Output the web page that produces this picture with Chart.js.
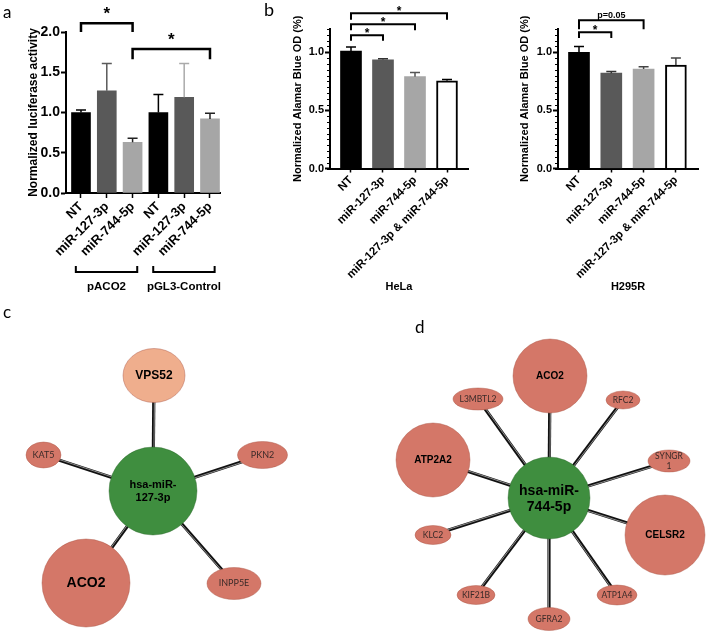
<!DOCTYPE html>
<html><head><meta charset="utf-8">
<script src="https://cdn.jsdelivr.net/npm/chart.js@4.4.1/dist/chart.umd.min.js"></script>
<style>
html,body{margin:0;padding:0;background:#fff;}
body{width:708px;height:635px;position:relative;overflow:hidden;}
canvas{position:absolute;}
.lbl{position:absolute;font-family:Lato,'Open Sans',sans-serif;color:#000;line-height:1;}
</style></head><body>
<canvas id="ca" width="235" height="300" style="left:0;top:0"></canvas>
<canvas id="cb1" width="235" height="300" style="left:240px;top:0"></canvas>
<canvas id="cb2" width="238" height="300" style="left:470px;top:0"></canvas>
<canvas id="cc" width="360" height="335" style="left:0;top:300px"></canvas>
<canvas id="cd" width="328" height="335" style="left:380px;top:300px"></canvas>
<div class="lbl" style="left:3px;top:3px;font-size:17px">a</div>
<div class="lbl" style="left:264px;top:0px;font-size:18px">b</div>
<div class="lbl" style="left:3px;top:303px;font-size:17px">c</div>
<div class="lbl" style="left:415px;top:318px;font-size:17px">d</div>
<script>
// ---------- data ----------
const catsA = ['NT','miR-127-3p','miR-744-5p','NT','miR-127-3p','miR-744-5p'];
const valsA = [1.00, 1.27, 0.63, 1.00, 1.19, 0.92];
const errA  = [1.03, 1.61, 0.68, 1.225, 1.61, 0.99];
const ticksA = [0, 0.5, 1.0, 1.5, 2.0];
const groupNamesA = ['pACO2','pGL3-Control'];
const groupStartA = [0, 3];
const groupEndA = [2, 5];
const brFromA = [0, 2], brToA = [2, 5], brLevelA = [2.11, 1.79], brDropA = [2.0, 1.66], brTextA = ['*','*'];

const catsB = ['NT','miR-127-3p','miR-744-5p','miR-127-3p & miR-744-5p'];
const valsHeLa = [1.01, 0.935, 0.79, 0.755];
const errHeLa  = [1.045, 0.945, 0.825, 0.765];
const valsH295R = [1.00, 0.82, 0.855, 0.89];
const errH295R  = [1.05, 0.835, 0.875, 0.95];
const ticksB = [0, 0.5, 1.0];
const brFromHeLa = [0, 0, 0], brToHeLa = [3, 2, 1], brLevelHeLa = [1.336, 1.241, 1.147], brDropHeLa = [1.28, 1.19, 1.10], brTextHeLa = ['*','*','*'];
const brFromH295R = [0, 0], brToH295R = [2, 1], brLevelH295R = [1.276, 1.172], brDropH295R = [1.198, 1.123], brTextH295R = ['p=0.05','*'];

// network c
const netCNames = ['hsa-miR-\n127-3p','VPS52','PKN2','INPP5E','ACO2','KAT5'];
const netCX = [0, 1, 109.5, 81, -67, -109.5];
const netCY = [0, 115.5, 36, -92.5, -92, 36];
const netCRx = [44, 31, 25, 27, 44, 17.5];
const netCRy = [44, 27, 13.5, 16, 44, 13];
const netCKind = ['hub','light','minor','minor','major','minor'];
// network d
const netDNames = ['hsa-miR-\n744-5p','ACO2','RFC2','SYNGR\n1','CELSR2','ATP1A4','GFRA2','KIF21B','KLC2','ATP2A2','L3MBTL2'];
const netDX = [0, 1, 74, 120, 116, 68, 0, -73, -116, -116, -71];
const netDY = [0, 122, 98, 37, -37, -97, -121, -97, -37, 38, 99];
const netDRx = [41, 37, 17, 21, 40, 20, 21, 19, 18, 37, 25];
const netDRy = [41, 37, 9, 11, 40, 10, 11.5, 9.5, 9.5, 37, 11];
const netDKind = ['hub','major','minor','minor','major','minor','minor','minor','minor','major','minor'];

// ---------- charts ----------
const SANS = "'Liberation Sans', Arial, sans-serif";
Chart.defaults.font.family = SANS;
Chart.defaults.color = '#000';

function barChart(id, o) {
  const ann = {
    id: 'ann_' + id,
    afterDraw(chart) {
      const ctx = chart.ctx, xs = chart.scales.x, ys = chart.scales.y;
      const meta = chart.getDatasetMeta(0);
      ctx.save();
      // error bars
      o.err.forEach((e, i) => {
        const x = meta.data[i].x;
        const y0 = ys.getPixelForValue(o.vals[i]), y1 = ys.getPixelForValue(e);
        ctx.strokeStyle = o.errColors[i]; ctx.lineWidth = o.elw;
        ctx.beginPath();
        ctx.moveTo(x, y0); ctx.lineTo(x, y1);
        ctx.moveTo(x - o.cap / 2, y1); ctx.lineTo(x + o.cap / 2, y1);
        ctx.stroke();
      });
      // minor ticks
      if (o.minor) {
        ctx.strokeStyle = '#000'; ctx.lineWidth = 1;
        const L = chart.chartArea.left;
        for (let k = 0; k <= Math.round(o.ymax / o.minor); k++) {
          const v = k * o.minor;
          const py = Math.round(ys.getPixelForValue(v)) + 0.5;
          ctx.beginPath(); ctx.moveTo(L - 3, py); ctx.lineTo(L, py); ctx.stroke();
        }
      }
      // significance brackets
      ctx.strokeStyle = '#000'; ctx.fillStyle = '#000'; ctx.lineWidth = o.blw;
      o.brFrom.forEach((f, i) => {
        const x1 = xs.getPixelForValue(f), x2 = xs.getPixelForValue(o.brTo[i]);
        const y = ys.getPixelForValue(o.brLevel[i]), yd = ys.getPixelForValue(o.brDrop[i]);
        ctx.beginPath();
        ctx.moveTo(x1, yd); ctx.lineTo(x1, y); ctx.lineTo(x2, y); ctx.lineTo(x2, yd);
        ctx.stroke();
        const t = o.brText[i];
        const star = t === '*';
        ctx.font = 'bold ' + (star ? o.starSize : o.pSize) + 'px ' + SANS;
        ctx.textAlign = 'center'; ctx.textBaseline = 'alphabetic';
        ctx.fillText(t, (x1 + x2) / 2, y + (star ? o.starOff : o.pOff));
      });
      // group brackets below axis
      if (o.groups) {
        ctx.lineWidth = 2;
        o.groups.forEach((g, i) => {
          const x1 = xs.getPixelForValue(o.gStart[i] - 0.2), x2 = xs.getPixelForValue(o.gEnd[i] + 0.18);
          ctx.beginPath();
          ctx.moveTo(x1, 266); ctx.lineTo(x1, 272); ctx.lineTo(x2, 272); ctx.lineTo(x2, 266);
          ctx.stroke();
          ctx.font = 'bold 11.5px ' + SANS; ctx.textAlign = 'center'; ctx.textBaseline = 'middle';
          ctx.fillText(g, (x1 + x2) / 2, 287);
        });
      }
      ctx.restore();
    }
  };
  return new Chart(document.getElementById(id), {
    type: 'bar',
    data: { datasets: [{
      data: o.vals.map((v, i) => ({ x: i, y: v })),
      backgroundColor: o.colors, borderColor: '#000', borderWidth: o.bw,
      barThickness: o.thick, borderSkipped: 'start'
    }] },
    options: {
      responsive: false, animation: false, events: [],
      layout: { padding: { left: 0, top: o.top, right: o.right, bottom: 0 } },
      plugins: { legend: { display: false }, tooltip: { enabled: false } },
      scales: {
        x: {
          type: 'linear', min: o.xmin, max: o.xmax, offset: false,
          afterBuildTicks: s => { s.ticks = o.cats.map((c, i) => ({ value: i })); },
          afterFit: s => { s.height = o.xh; },
          ticks: { callback: v => o.cats[Math.round(v)], minRotation: 45, maxRotation: 45, autoSkip: false,
                   font: { size: o.xfs, weight: 'bold' }, color: '#000', padding: 1 },
          grid: { display: true, drawOnChartArea: false, offset: false, tickLength: o.xtl, tickColor: '#000', tickWidth: 1.5 },
          border: { color: '#000', width: o.aw },
          title: o.xtitle ? { display: true, text: o.xtitle, font: { size: 11, weight: 'bold' }, color: '#000', padding: { top: 0, bottom: 6 } } : { display: false }
        },
        y: {
          min: 0, max: o.ymax,
          afterBuildTicks: s => { s.ticks = o.yticks.map(v => ({ value: v })); },
          afterFit: s => { s.width = o.yw; },
          ticks: { callback: v => Number(v).toFixed(1), font: { size: o.yfs, weight: 'bold' }, color: '#000', padding: 1 },
          grid: { display: true, drawOnChartArea: false, tickLength: 5, tickColor: '#000', tickWidth: o.aw },
          border: { color: '#000', width: o.aw },
          title: { display: true, text: o.ytitle, font: { size: o.ytfs, weight: 'bold' }, color: '#000', padding: { top: o.ytpad, bottom: 0 } }
        }
      }
    },
    plugins: [ann]
  });
}

const GREYS = ['#000000', '#595959', '#a6a6a6'];

barChart('ca', {
  cats: catsA, vals: valsA, err: errA, yticks: ticksA, ymax: 2.0,
  colors: [GREYS[0], GREYS[1], GREYS[2], GREYS[0], GREYS[1], GREYS[2]], bw: 0, thick: 19,
  errColors: ['#000', '#5a5a5a', '#222', '#000', '#aaaaaa', '#222'], elw: 1.5, cap: 10,
  top: 32, right: 15, xh: 107, yw: 66, xmin: -0.581, xmax: 5.388,
  xfs: 13, yfs: 14, xtl: 5, aw: 2, ytitle: 'Normalized luciferase activity', ytfs: 12, ytpad: 26,
  brFrom: brFromA, brTo: brToA, brLevel: brLevelA, brDrop: brDropA, brText: brTextA,
  blw: 2.5, starSize: 17, starOff: -4, pSize: 9, pOff: -2,
  groups: groupNamesA, gStart: groupStartA, gEnd: groupEndA
});

const optsB = {
  cats: catsB, yticks: ticksB, ymax: 1.2, minor: 0.05,
  colors: [GREYS[0], GREYS[1], GREYS[2], '#ffffff'], bw: [0, 0, 0, 2], thick: 21,
  elw: 1.5, cap: 10, top: 29, xh: 131.5, xfs: 11.5, yfs: 11, xtl: 4, aw: 2,
  ytitle: 'Normalized Alamar Blue OD (%)', ytfs: 11,
  blw: 2, starSize: 12, starOff: 2, pSize: 9, pOff: -2
};
barChart('cb1', Object.assign({}, optsB, {
  vals: valsHeLa, err: errHeLa, errColors: ['#000', '#333', '#555', '#000'],
  right: 7, yw: 90, xmin: -0.656, xmax: 3.656, ytpad: 51, xtitle: 'HeLa',
  brFrom: brFromHeLa, brTo: brToHeLa, brLevel: brLevelHeLa, brDrop: brDropHeLa, brText: brTextHeLa
}));
barChart('cb2', Object.assign({}, optsB, {
  vals: valsH295R, err: errH295R, errColors: ['#000', '#333', '#444', '#444'],
  right: 10, yw: 88, xmin: -0.65, xmax: 3.684, ytpad: 48, xtitle: 'H295R',
  brFrom: brFromH295R, brTo: brToH295R, brLevel: brLevelH295R, brDrop: brDropH295R, brText: brTextH295R
}));

// ---------- networks ----------
const COL = { hub: '#3f8e3f', major: '#d47768', minor: '#d47768', light: '#efae8d' };
function netChart(id, o) {
  const plug = {
    id: 'net_' + id,
    afterDatasetsDraw(chart) {
      const ctx = chart.ctx, xs = chart.scales.x, ys = chart.scales.y;
      const pts = chart.getDatasetMeta(0).data;
      const kx = Math.abs(xs.getPixelForValue(1) - xs.getPixelForValue(0));
      const ky = Math.abs(ys.getPixelForValue(1) - ys.getPixelForValue(0));
      const hx = pts[0].x, hy = pts[0].y;
      ctx.save();
      // edges
      for (let i = 1; i < pts.length; i++) {
        const x = pts[i].x, y = pts[i].y;
        const dx = x - hx, dy = y - hy, len = Math.hypot(dx, dy);
        const nx = -dy / len, ny = dx / len;
        ctx.lineCap = 'butt';
        ctx.strokeStyle = '#111'; ctx.lineWidth = 3.2;
        ctx.beginPath(); ctx.moveTo(hx, hy); ctx.lineTo(x, y); ctx.stroke();
        ctx.strokeStyle = '#9a9a9a'; ctx.lineWidth = 0.9;
        ctx.beginPath(); ctx.moveTo(hx + nx * 0.6, hy + ny * 0.6); ctx.lineTo(x + nx * 0.6, y + ny * 0.6); ctx.stroke();
      }
      // nodes
      for (let i = pts.length - 1; i >= 0; i--) {
        const k = o.kind[i];
        ctx.beginPath();
        ctx.ellipse(pts[i].x, pts[i].y, o.rx[i] * kx, o.ry[i] * ky, 0, 0, Math.PI * 2);
        ctx.fillStyle = COL[k]; ctx.fill();
        ctx.strokeStyle = k === 'hub' ? 'rgba(40,100,40,0.5)' : 'rgba(170,85,70,0.55)';
        ctx.lineWidth = 0.8; ctx.stroke();
      }
      // labels
      ctx.textAlign = 'center'; ctx.textBaseline = 'middle';
      for (let i = 0; i < pts.length; i++) {
        const k = o.kind[i];
        const st = o.fonts[k];
        ctx.font = (st.bold ? 'bold ' : '') + st.size + 'px ' + (st.bold ? SANS : "Lato, 'Open Sans', sans-serif");
        ctx.fillStyle = st.color;
        const lines = o.names[i].split('\n');
        const y0 = pts[i].y + st.dy - (lines.length - 1) * st.lh / 2;
        lines.forEach((ln, j) => ctx.fillText(ln, pts[i].x, y0 + j * st.lh));
      }
      ctx.restore();
    }
  };
  return new Chart(document.getElementById(id), {
    type: 'scatter',
    data: { datasets: [{ data: o.x.map((x, i) => ({ x: x, y: o.y[i] })), pointRadius: 0, pointHoverRadius: 0 }] },
    options: {
      responsive: false, animation: false, events: [],
      layout: { padding: 0 },
      plugins: { legend: { display: false }, tooltip: { enabled: false } },
      scales: {
        x: { type: 'linear', display: false, min: o.xmin, max: o.xmax },
        y: { type: 'linear', display: false, min: o.ymin, max: o.ymax }
      }
    },
    plugins: [plug]
  });
}

netChart('cc', {
  names: netCNames, x: netCX, y: netCY, rx: netCRx, ry: netCRy, kind: netCKind,
  xmin: -153, xmax: 207, ymin: -144, ymax: 191,
  fonts: {
    hub: { size: 11, bold: true, lh: 13, dy: 0.5, color: '#000' },
    major: { size: 14, bold: true, lh: 14, dy: 0, color: '#000' },
    light: { size: 12, bold: true, lh: 12, dy: 0, color: '#000' },
    minor: { size: 9, bold: false, lh: 10, dy: 0, color: '#3a2a28' }
  }
});
netChart('cd', {
  names: netDNames, x: netDX, y: netDY, rx: netDRx, ry: netDRy, kind: netDKind,
  xmin: -169, xmax: 159, ymin: -137, ymax: 198,
  fonts: {
    hub: { size: 14, bold: true, lh: 16.5, dy: 1.2, color: '#000' },
    major: { size: 10, bold: true, lh: 11, dy: 0, color: '#000' },
    light: { size: 10, bold: true, lh: 11, dy: 0, color: '#000' },
    minor: { size: 8.5, bold: false, lh: 10, dy: 0, color: '#3a2a28' }
  }
});
</script>
</body></html>
